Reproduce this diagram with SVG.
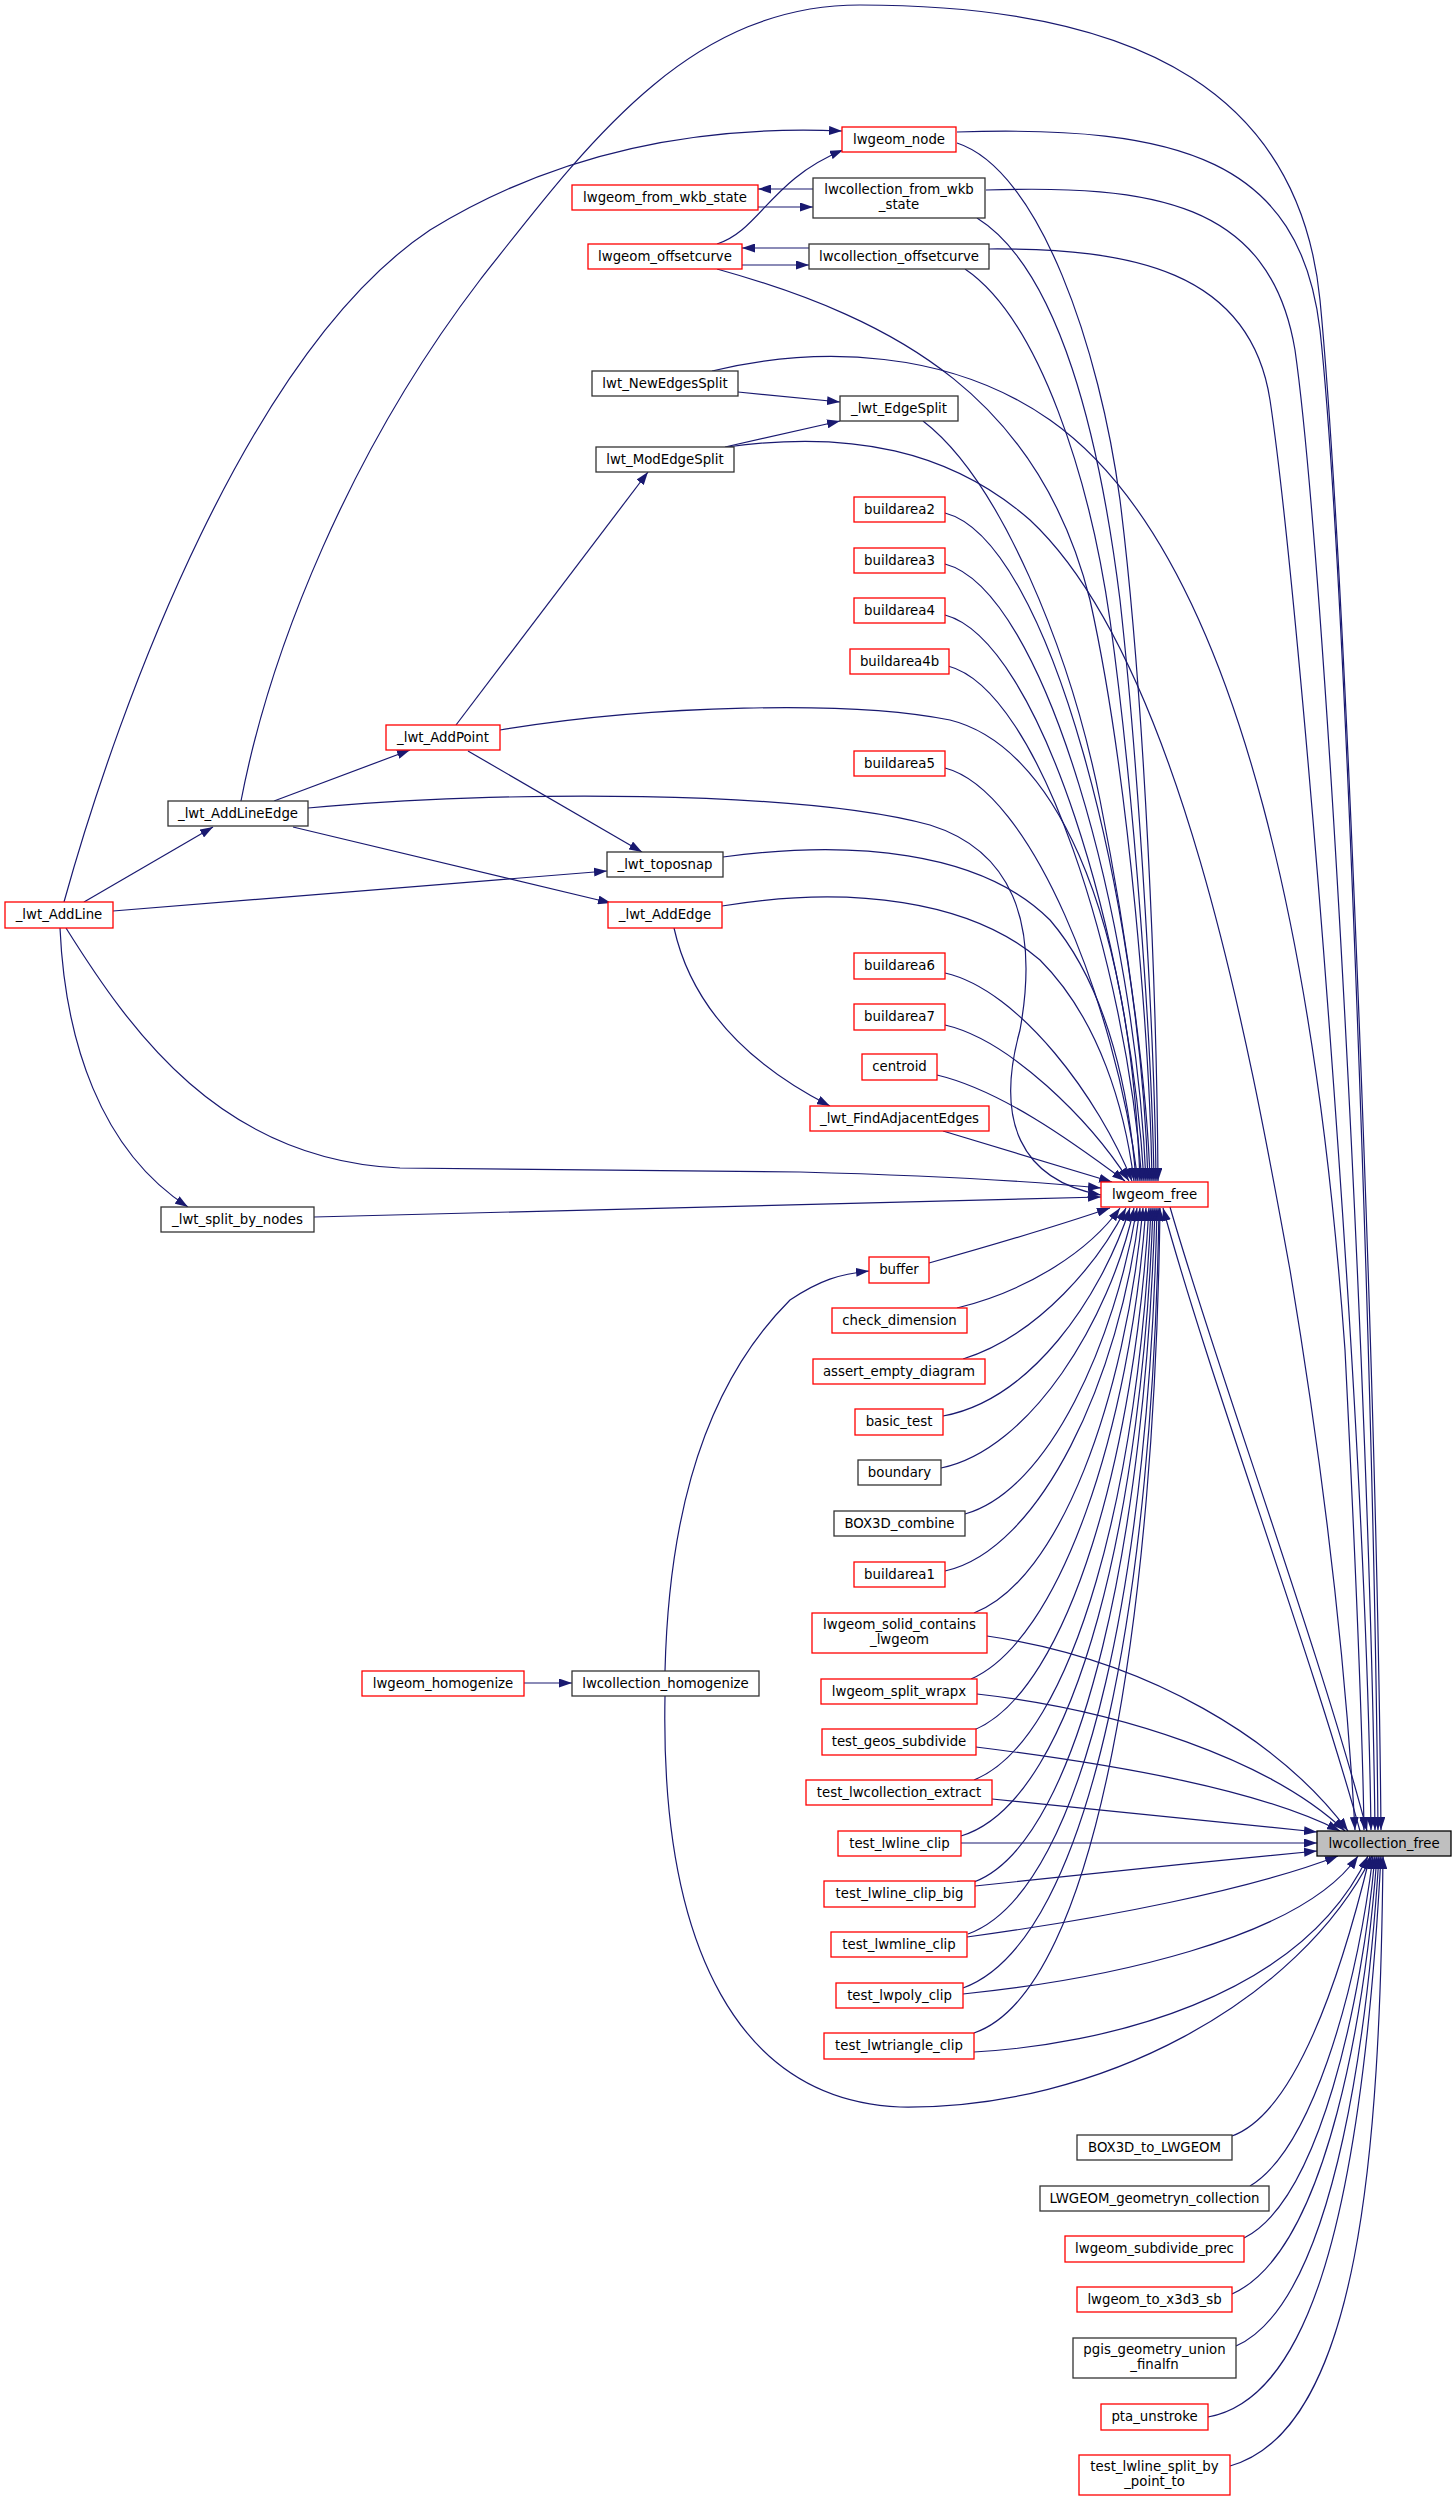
<svg xmlns="http://www.w3.org/2000/svg" width="1456" height="2502" viewBox="0 0 1456 2502">
<style>
.nd rect{fill:#fff;stroke-width:1.3}
.r rect{stroke:#ff0000}
.b rect{stroke:#333}
.root rect{fill:#bfbfbf;stroke:#000}
.nd text{font-family:"DejaVu Sans",sans-serif;font-size:13.3px;text-anchor:middle;fill:#000}
#edges path{fill:none;stroke:#191970;stroke-width:1.2;marker-end:url(#ah)}
</style>
<defs>
<marker id="ah" markerUnits="userSpaceOnUse" markerWidth="13" markerHeight="9" refX="13" refY="4.5" orient="auto">
<path d="M0,0 L13,4.5 L0,9 z" fill="#191970"/>
</marker>
</defs>
<rect width="1456" height="2502" fill="#fff"/>
<g id="edges">
<path d="M64,902 C120,700 250,350 430,230 C560,150 700,125 842,131"/>
<path d="M241,801 C270,650 350,450 480,280 C590,140 690,5 860,5 C1150,5 1300,100 1320,300 C1345,560 1377,1400 1381,1830"/>
<path d="M717,244 C760,230 770,180 843,150"/>
<path d="M813,189 L758,189"/>
<path d="M758,207 L813,207"/>
<path d="M809,248 L742,248"/>
<path d="M742,265 L809,265"/>
<path d="M957,132 C1180,125 1300,160 1320,330 C1345,560 1374,1400 1378,1830"/>
<path d="M986,190 C1150,185 1270,200 1295,350 C1325,560 1370,1400 1375,1830"/>
<path d="M989,249 C1130,248 1250,270 1270,400 C1300,600 1365,1400 1371,1830"/>
<path d="M957,143 C1040,170 1100,350 1120,500 C1145,700 1157,1000 1158,1181"/>
<path d="M977,218 C1060,270 1100,440 1120,600 C1140,780 1155,1050 1156,1181"/>
<path d="M965,269 C1040,320 1090,480 1110,620 C1135,800 1152,1050 1154,1181"/>
<path d="M717,269 C900,320 1040,400 1090,600 C1130,780 1150,1050 1152,1181"/>
<path d="M738,392 L840,402"/>
<path d="M725,447 L840,421"/>
<path d="M712,371 C820,345 950,350 1050,420 C1250,560 1320,1000 1345,1350 C1355,1550 1362,1700 1364,1830"/>
<path d="M727,447 C850,430 950,450 1030,520 C1180,660 1250,1050 1290,1270 C1320,1450 1345,1650 1355,1830"/>
<path d="M923,421 C1000,480 1070,650 1100,800 C1130,950 1148,1100 1150,1181"/>
<path d="M456,725 L648,472"/>
<path d="M274,801 L410,750"/>
<path d="M468,751 L642,852"/>
<path d="M500,730 C650,705 850,700 950,720 C1050,745 1130,900 1140,1181"/>
<path d="M84,902 L213,827"/>
<path d="M293,827 L611,903"/>
<path d="M113,911 L607,871"/>
<path d="M308,808 C500,790 800,790 930,825 C1010,850 1040,920 1020,1030 C995,1120 1020,1180 1101,1195"/>
<path d="M723,857 C850,840 980,850 1050,920 C1110,990 1130,1100 1136,1181"/>
<path d="M722,906 C850,885 970,900 1040,960 C1100,1020 1125,1110 1134,1181"/>
<path d="M674,928 C690,1000 740,1060 830,1106"/>
<path d="M943,1131 L1112,1182"/>
<path d="M66,928 C130,1030 220,1160 400,1168 L800,1172 C950,1176 1050,1183 1101,1188"/>
<path d="M60,928 C65,1040 100,1150 188,1207"/>
<path d="M314,1217 C500,1212 800,1203 1101,1197"/>
<path d="M945,513 C1050,540 1140,900 1148,1181"/>
<path d="M945,564 C1045,590 1135,920 1146,1181"/>
<path d="M945,615 C1040,640 1130,940 1144,1181"/>
<path d="M948,666 C1040,690 1125,960 1142,1181"/>
<path d="M945,768 C1030,790 1115,1000 1138,1181"/>
<path d="M945,973 C1020,990 1100,1100 1132,1181"/>
<path d="M945,1025 C1010,1040 1090,1120 1129,1181"/>
<path d="M937,1075 C1000,1090 1070,1140 1125,1181"/>
<path d="M929,1263 C1000,1243 1060,1225 1110,1208"/>
<path d="M957,1308 C1030,1290 1090,1250 1120,1208"/>
<path d="M963,1359 C1040,1335 1100,1260 1126,1208"/>
<path d="M943,1416 C1030,1400 1100,1300 1130,1208"/>
<path d="M941,1468 C1030,1450 1110,1320 1134,1208"/>
<path d="M965,1514 C1050,1490 1115,1340 1137,1208"/>
<path d="M945,1571 C1040,1550 1120,1380 1140,1208"/>
<path d="M974,1613 C1060,1580 1125,1400 1143,1208"/>
<path d="M971,1679 C1060,1640 1130,1430 1146,1208"/>
<path d="M974,1730 C1070,1690 1135,1450 1149,1208"/>
<path d="M974,1780 C1075,1740 1140,1480 1151,1208"/>
<path d="M961,1836 C1080,1800 1143,1500 1153,1208"/>
<path d="M974,1882 C1085,1840 1146,1520 1155,1208"/>
<path d="M968,1934 C1090,1890 1150,1550 1157,1208"/>
<path d="M963,1988 C1095,1940 1153,1580 1159,1208"/>
<path d="M974,2033 C1100,1990 1155,1600 1160,1208"/>
<path d="M1360,1831 C1310,1650 1210,1380 1163,1208"/>
<path d="M1170,1207 C1220,1380 1320,1650 1367,1831"/>
<path d="M987,1636 C1150,1660 1280,1740 1348,1831"/>
<path d="M977,1694 C1120,1710 1270,1760 1345,1831"/>
<path d="M976,1747 C1120,1765 1260,1790 1340,1831"/>
<path d="M992,1799 C1100,1810 1200,1820 1317,1832"/>
<path d="M961,1843 L1317,1843"/>
<path d="M975,1886 C1100,1873 1200,1862 1317,1851"/>
<path d="M967,1937 C1100,1919 1250,1890 1338,1856"/>
<path d="M963,1994 C1100,1980 1300,1940 1358,1856"/>
<path d="M974,2052 C1100,2045 1300,2000 1368,1856"/>
<path d="M524,1683 L572,1683"/>
<path d="M665,1671 C668,1550 690,1400 790,1300 C820,1280 840,1274 869,1271"/>
<path d="M665,1696 C660,1950 740,2100 900,2107 C1100,2110 1300,2000 1372,1856"/>
<path d="M1232,2136 C1290,2115 1335,2000 1370,1856"/>
<path d="M1250,2186 C1310,2150 1355,2000 1373,1856"/>
<path d="M1244,2238 C1320,2200 1362,2000 1375,1856"/>
<path d="M1232,2294 C1330,2250 1366,2000 1377,1856"/>
<path d="M1236,2346 C1340,2300 1370,2000 1379,1856"/>
<path d="M1208,2417 C1300,2400 1360,2250 1381,1856"/>
<path d="M1230,2466 C1360,2430 1380,2150 1383,1856"/>
</g>
<g id="n1" class="nd r"><rect x="842" y="127" width="114" height="25"/><text x="899" y="144">lwgeom_node</text></g>
<g id="n2" class="nd r"><rect x="572" y="185" width="186" height="25"/><text x="665" y="202">lwgeom_from_wkb_state</text></g>
<g id="n3" class="nd b"><rect x="813" y="178" width="172" height="40"/><text x="899" y="194">lwcollection_from_wkb</text><text x="899" y="209">_state</text></g>
<g id="n4" class="nd r"><rect x="588" y="244" width="154" height="25"/><text x="665" y="261">lwgeom_offsetcurve</text></g>
<g id="n5" class="nd b"><rect x="809" y="244" width="180" height="25"/><text x="899" y="261">lwcollection_offsetcurve</text></g>
<g id="n6" class="nd b"><rect x="592" y="371" width="146" height="25"/><text x="665" y="388">lwt_NewEdgesSplit</text></g>
<g id="n7" class="nd b"><rect x="840" y="396" width="118" height="25"/><text x="899" y="413">_lwt_EdgeSplit</text></g>
<g id="n8" class="nd b"><rect x="596" y="447" width="138" height="25"/><text x="665" y="464">lwt_ModEdgeSplit</text></g>
<g id="n9" class="nd r"><rect x="854" y="497" width="91" height="25"/><text x="899.5" y="514">buildarea2</text></g>
<g id="n10" class="nd r"><rect x="854" y="548" width="91" height="25"/><text x="899.5" y="565">buildarea3</text></g>
<g id="n11" class="nd r"><rect x="854" y="598" width="91" height="25"/><text x="899.5" y="615">buildarea4</text></g>
<g id="n12" class="nd r"><rect x="850" y="649" width="99" height="25"/><text x="899.5" y="666">buildarea4b</text></g>
<g id="n13" class="nd r"><rect x="386" y="725" width="114" height="25"/><text x="443" y="742">_lwt_AddPoint</text></g>
<g id="n14" class="nd r"><rect x="854" y="751" width="91" height="25"/><text x="899.5" y="768">buildarea5</text></g>
<g id="n15" class="nd b"><rect x="168" y="801" width="140" height="25"/><text x="238" y="818">_lwt_AddLineEdge</text></g>
<g id="n16" class="nd b"><rect x="607" y="852" width="116" height="25"/><text x="665" y="869">_lwt_toposnap</text></g>
<g id="n17" class="nd r"><rect x="5" y="902" width="108" height="26"/><text x="59" y="919">_lwt_AddLine</text></g>
<g id="n18" class="nd r"><rect x="608" y="902" width="114" height="26"/><text x="665" y="919">_lwt_AddEdge</text></g>
<g id="n19" class="nd r"><rect x="854" y="953" width="91" height="26"/><text x="899.5" y="970">buildarea6</text></g>
<g id="n20" class="nd r"><rect x="854" y="1004" width="91" height="26"/><text x="899.5" y="1021">buildarea7</text></g>
<g id="n21" class="nd r"><rect x="862" y="1054" width="75" height="26"/><text x="899.5" y="1071">centroid</text></g>
<g id="n22" class="nd r"><rect x="810" y="1106" width="179" height="25"/><text x="899.5" y="1123">_lwt_FindAdjacentEdges</text></g>
<g id="n23" class="nd r"><rect x="1101" y="1182" width="107" height="25"/><text x="1154.5" y="1199">lwgeom_free</text></g>
<g id="n24" class="nd b"><rect x="161" y="1207" width="153" height="25"/><text x="237.5" y="1224">_lwt_split_by_nodes</text></g>
<g id="n25" class="nd r"><rect x="869" y="1257" width="60" height="26"/><text x="899" y="1274">buffer</text></g>
<g id="n26" class="nd r"><rect x="832" y="1308" width="135" height="25"/><text x="899.5" y="1325">check_dimension</text></g>
<g id="n27" class="nd r"><rect x="813" y="1359" width="172" height="25"/><text x="899" y="1376">assert_empty_diagram</text></g>
<g id="n28" class="nd r"><rect x="855" y="1409" width="88" height="26"/><text x="899" y="1426">basic_test</text></g>
<g id="n29" class="nd b"><rect x="858" y="1460" width="83" height="25"/><text x="899.5" y="1477">boundary</text></g>
<g id="n30" class="nd b"><rect x="834" y="1511" width="131" height="25"/><text x="899.5" y="1528">BOX3D_combine</text></g>
<g id="n31" class="nd r"><rect x="854" y="1562" width="91" height="25"/><text x="899.5" y="1579">buildarea1</text></g>
<g id="n32" class="nd r"><rect x="812" y="1613" width="175" height="40"/><text x="899.5" y="1629">lwgeom_solid_contains</text><text x="899.5" y="1644">_lwgeom</text></g>
<g id="n33" class="nd r"><rect x="362" y="1671" width="162" height="25"/><text x="443" y="1688">lwgeom_homogenize</text></g>
<g id="n34" class="nd b"><rect x="572" y="1671" width="187" height="25"/><text x="665.5" y="1688">lwcollection_homogenize</text></g>
<g id="n35" class="nd r"><rect x="821" y="1679" width="156" height="25"/><text x="899" y="1696">lwgeom_split_wrapx</text></g>
<g id="n36" class="nd r"><rect x="822" y="1729" width="154" height="26"/><text x="899" y="1746">test_geos_subdivide</text></g>
<g id="n37" class="nd r"><rect x="806" y="1780" width="186" height="25"/><text x="899" y="1797">test_lwcollection_extract</text></g>
<g id="n38" class="nd r"><rect x="838" y="1831" width="123" height="25"/><text x="899.5" y="1848">test_lwline_clip</text></g>
<g id="n39" class="nd root"><rect x="1317" y="1831" width="134" height="25"/><text x="1384" y="1848">lwcollection_free</text></g>
<g id="n40" class="nd r"><rect x="824" y="1881" width="151" height="26"/><text x="899.5" y="1898">test_lwline_clip_big</text></g>
<g id="n41" class="nd r"><rect x="831" y="1932" width="136" height="25"/><text x="899" y="1949">test_lwmline_clip</text></g>
<g id="n42" class="nd r"><rect x="836" y="1983" width="127" height="25"/><text x="899.5" y="2000">test_lwpoly_clip</text></g>
<g id="n43" class="nd r"><rect x="824" y="2033" width="150" height="26"/><text x="899" y="2050">test_lwtriangle_clip</text></g>
<g id="n44" class="nd b"><rect x="1077" y="2135" width="155" height="25"/><text x="1154.5" y="2152">BOX3D_to_LWGEOM</text></g>
<g id="n45" class="nd b"><rect x="1040" y="2186" width="229" height="25"/><text x="1154.5" y="2203">LWGEOM_geometryn_collection</text></g>
<g id="n46" class="nd r"><rect x="1065" y="2236" width="179" height="26"/><text x="1154.5" y="2253">lwgeom_subdivide_prec</text></g>
<g id="n47" class="nd r"><rect x="1077" y="2287" width="155" height="25"/><text x="1154.5" y="2304">lwgeom_to_x3d3_sb</text></g>
<g id="n48" class="nd b"><rect x="1073" y="2338" width="163" height="40"/><text x="1154.5" y="2354">pgis_geometry_union</text><text x="1154.5" y="2369">_finalfn</text></g>
<g id="n49" class="nd r"><rect x="1101" y="2404" width="107" height="26"/><text x="1154.5" y="2421">pta_unstroke</text></g>
<g id="n50" class="nd r"><rect x="1079" y="2455" width="151" height="40"/><text x="1154.5" y="2471">test_lwline_split_by</text><text x="1154.5" y="2486">_point_to</text></g>
</svg>
